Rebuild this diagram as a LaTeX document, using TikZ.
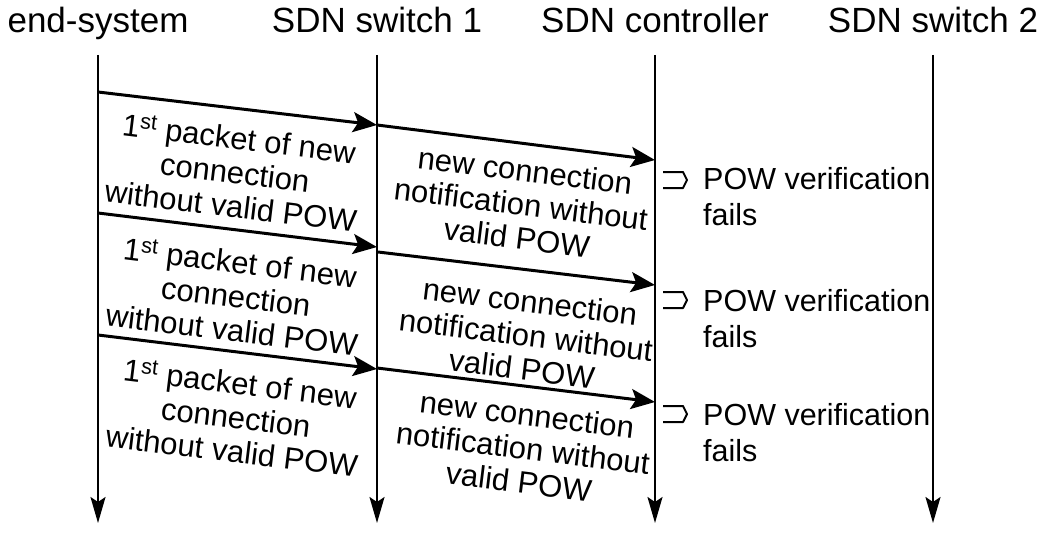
\documentclass[tikz,border=0pt]{standalone}
\usepackage{fontspec}
\setmainfont{Liberation Sans}
\usetikzlibrary{arrows.meta}
\begin{document}
\begin{tikzpicture}[x=1pt,y=-1pt,
  life/.style={line width=2pt,-{Stealth[length=26pt,width=15pt,inset=5pt]}},
  msg/.style={line width=3pt,-{Stealth[length=24pt,width=20pt,inset=5pt]}},
  head/.style={font=\fontsize{35}{38}\selectfont,anchor=base,inner sep=0pt},
  lbl/.style={font=\fontsize{31}{34}\selectfont,align=center,rotate=-7,inner sep=0pt},
  res/.style={font=\fontsize{30.5}{36}\selectfont,align=left,anchor=base west,inner sep=0pt},
  hookline/.style={line width=2pt,line join=round}]
\useasboundingbox (0,0) rectangle (1045,543);

% headers
\node[head] (h1) at (98,33) {end-system};
\node[head] (h2) at (377,33) {SDN switch 1};
\node[head] (h3) at (655,33) {SDN controller};
\node[head] (h4) at (933,33) {SDN switch 2};

% lifelines
\foreach \i/\x in {1/98,2/377,3/655,4/933}{
  \coordinate (t\i) at (\x,55);
  \coordinate (b\i) at (\x,523);
  \draw[life] (t\i) -- (b\i);
}

% message end points
\coordinate (r1a) at (98,92);  \coordinate (r1b) at (377,125);
\coordinate (r1c) at (377,125); \coordinate (r1d) at (655,160);
\coordinate (r2a) at (98,213);  \coordinate (r2b) at (377,247);
\coordinate (r2c) at (378,252); \coordinate (r2d) at (655,285);
\coordinate (r3a) at (98,335);  \coordinate (r3b) at (377,369);
\coordinate (r3c) at (377,368); \coordinate (r3d) at (655,402);

\draw[msg] (r1a) -- (r1b);
\draw[msg] (r1c) -- (r1d);
\draw[msg] (r2a) -- (r2b);
\draw[msg] (r2c) -- (r2d);
\draw[msg] (r3a) -- (r3b);
\draw[msg] (r3c) -- (r3d);

% labels
\node[lbl] (l1a) at (235,172) {1\textsuperscript{st} packet of new\\connection\\without valid POW};
\node[lbl] (l2a) at (236,296) {1\textsuperscript{st} packet of new\\connection\\without valid POW};
\node[lbl] (l3a) at (236,417) {1\textsuperscript{st} packet of new\\connection\\without valid POW};
\node[lbl] (l1b) at (521,204) {new connection\\notification without\\valid POW};
\node[lbl] (l2b) at (526,335) {new connection\\notification without\\valid POW};
\node[lbl] (l3b) at (523,448) {new connection\\notification without\\valid POW};

% results
\foreach \i/\y in {1/180,2/300,3/414}{
  \draw[hookline] (663,\y-8) -- (683,\y-8) -- (687,\y) -- (683,\y+8) -- (663,\y+8);
}
\node[res] (p1) at (703,225) {POW verification\\fails};
\node[res] (p2) at (703,347) {POW verification\\fails};
\node[res] (p3) at (703,461) {POW verification\\fails};
\end{tikzpicture}
\end{document}
